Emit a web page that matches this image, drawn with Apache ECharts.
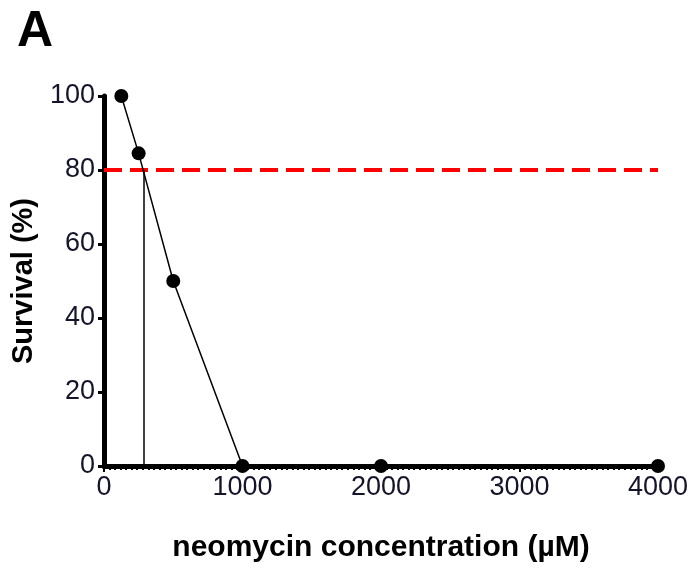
<!DOCTYPE html>
<html>
<head>
<meta charset="utf-8">
<script src="https://cdn.jsdelivr.net/npm/echarts@6/dist/echarts.min.js"></script>
<style>
  html, body { margin: 0; padding: 0; background: #fff; }
  #chart { width: 695px; height: 571px; }
</style>
</head>
<body>
<div id="chart"></div>
<script>
// neomycin dose (µM) vs survival (%)
const concentration = [125, 250, 500, 1000, 2000, 4000];
const survival = [100, 84.5, 50, 0, 0, 0];
const cutoffSurvival = 80;
const cutoffConc = 290;
const xTicks = [0, 1000, 2000, 3000, 4000];
const yTicks = [0, 20, 40, 60, 80, 100];

const chart = echarts.init(document.getElementById("chart"));
const font = "Liberation Sans, Arial, sans-serif";

chart.setOption({
  animation: false,
  title: {
    text: "A",
    left: 12,
    top: 2,
    textStyle: { fontFamily: font, fontSize: 50, fontWeight: "bold", color: "#000" },
  },
  grid: { left: 104, right: 37, top: 96, bottom: 105 },
  xAxis: {
    type: "value",
    min: xTicks[0],
    max: xTicks[xTicks.length - 1],
    interval: 1000,
    name: "neomycin concentration (µM)",
    nameLocation: "middle",
    nameGap: 67,
    nameTextStyle: { fontFamily: font, fontSize: 30, fontWeight: "bold", color: "#000" },
    axisLine: { onZero: false, lineStyle: { color: "#000", width: 5 } },
    axisTick: { show: true, length: 6, lineStyle: { color: "#000", width: 2 } },
    minorTick: { show: true, splitNumber: 25, length: 4, lineStyle: { color: "#000", width: 2 } },
    axisLabel: { fontFamily: font, fontSize: 27, color: "#14142a", margin: 8, formatter: v => String(v) },
    splitLine: { show: false },
  },
  yAxis: {
    type: "value",
    min: yTicks[0],
    max: yTicks[yTicks.length - 1],
    interval: 20,
    name: "Survival (%)",
    nameLocation: "middle",
    nameGap: 66,
    nameTextStyle: { fontFamily: font, fontSize: 29, fontWeight: "bold", color: "#000" },
    axisLine: { show: true, onZero: false, lineStyle: { color: "#000", width: 5 } },
    axisTick: { show: true, length: 6, lineStyle: { color: "#000", width: 3 } },
    axisLabel: { fontFamily: font, fontSize: 27, color: "#14142a", margin: 9 },
    splitLine: { show: false },
  },
  series: [
    {
      type: "line",
      data: concentration.map((c, i) => [c, survival[i]]),
      symbol: "circle",
      symbolSize: 14,
      itemStyle: { color: "#000" },
      lineStyle: { color: "#000", width: 1.5 },
      z: 5,
      markLine: {
        silent: true,
        symbol: "none",
        label: { show: false },
        data: [
          { yAxis: cutoffSurvival, lineStyle: { color: "#ff0000", width: 4, type: [18, 8] } },
          [
            { coord: [cutoffConc, 0], lineStyle: { color: "#000", width: 1.5, type: "solid" } },
            { coord: [cutoffConc, cutoffSurvival] },
          ],
        ],
      },
    },
  ],
});
</script>
</body>
</html>
